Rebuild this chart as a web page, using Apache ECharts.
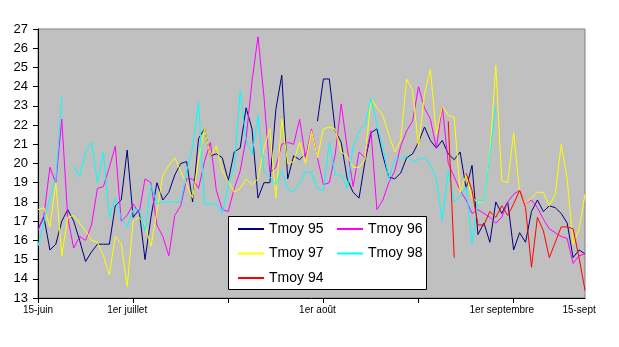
<!DOCTYPE html>
<html>
<head>
<meta charset="utf-8">
<script src="https://cdn.jsdelivr.net/npm/echarts@6/dist/echarts.min.js"></script>
<style>
  html, body { margin: 0; padding: 0; background: #ffffff; }
  #chart { width: 619px; height: 347px; }
</style>
</head>
<body>
<div id="chart"></div>
<script>
// Daily mean temperatures (°C), 15 June to 15 September (93 days)
const days = [];
for (let i = 0; i < 93; i++) {
  const d = new Date(2000, 5, 15 + i);
  days.push(String(d.getDate()).padStart(2, '0') + '/' + String(d.getMonth() + 1).padStart(2, '0'));
}

// Axis labels and the day index each one sits on
const xLabelText = ['15-juin', '1er juillet', '1er août', '1er septembre', '15-sept'];
const xLabelIndex = [0, 15, 47, 78, 91];

const seriesNames = ['Tmoy 95', 'Tmoy 96', 'Tmoy 97', 'Tmoy 98', 'Tmoy 94'];

const tmoy95 = [
  16.6, 17.2, 15.5, 15.8, 17.0, 17.6, 17.0, 16.0, 14.9, 15.4,
  15.8, 15.8, 15.8, 17.8, 18.1, 20.7, 17.2, 17.6, 15.0, 17.2,
  19.0, 18.1, 18.5, 19.4, 20.0, 20.1, 18.0, 21.3, 21.8, 20.4,
  20.5, 20.3, 19.1, 20.6, 20.8, 22.9, 21.8, 18.2, 19.0, 19.0,
  22.8, 24.6, 19.2, 20.4, 20.2, 20.5, null, 22.2, 24.4, 24.4,
  21.7, 21.1, 19.2, 18.5, 18.2, 20.1, 21.6, 21.8, 20.4, 19.3,
  19.2, 19.5, 20.3, 20.5, 21.1, 21.9, 21.2, 20.8, 21.2, 20.5,
  20.2, 20.6, 18.7, 19.9, 16.3, 16.9, 15.9, 18.0, 17.4, 18.0,
  15.5, 16.4, 15.9, 17.5, 18.1, 17.5, 17.8, 17.7, 17.4, 16.9,
  15.1, 15.5, 15.3
];

const tmoy96 = [
  16.5, 17.3, 19.8, 19.0, 22.3, 17.2, 15.6, 16.2, 16.0, 16.8,
  18.7, 18.8, 19.8, 20.9, 17.0, 17.3, 17.9, 17.4, 19.2, 19.0,
  16.8, 16.2, 15.2, 17.3, 17.8, 19.2, 19.2, 18.7, 20.1, 21.1,
  18.6, 17.6, 17.5, 18.7, 19.6, 21.3, 24.3, 26.6, 23.5, 19.5,
  19.8, 21.0, 21.1, 21.0, 22.3, 20.3, 21.8, 20.3, 18.9, 19.0,
  20.5, 23.1, 20.8, 18.8, 20.6, 20.3, 21.7, 17.6, 18.1, 19.0,
  19.6, 20.9, 21.7, 22.2, 24.0, 22.9, 22.3, 20.8, 23.0, 20.0,
  19.3, 18.6, 18.1, 17.4, 17.6, 17.4, 17.2, 16.9, 17.2, 18.0,
  18.4, 18.6, 17.9, 18.1, 17.7, 17.1, 16.6, 16.4, 16.2, 16.1,
  14.8, 15.2, 15.3
];

const tmoy97 = [
  17.6, 17.7, 16.7, 19.0, 15.2, 17.2, 17.3, 16.9, 16.5, 16.0,
  15.9, 15.2, 14.2, 16.2, 15.8, 13.6, 17.0, 17.2, 16.8, 15.7,
  17.5, 19.4, 19.9, 20.3, 19.6, 18.9, 18.2, 20.2, 21.8, 20.4,
  20.9, 19.6, 19.1, 18.5, 18.7, 19.2, 18.9, 19.2, 20.8, 21.8,
  18.2, 22.3, 20.0, 20.1, 21.1, 20.0, 21.7, 20.3, 21.8, 21.9,
  21.8, 20.6, 20.4, 19.8, 19.8, 20.2, 23.4, 22.9, 22.5, 21.5,
  20.6, 21.2, 24.4, 23.8, 20.9, 23.6, 24.9, 21.5, 23.0, 22.5,
  22.4, 18.5, 19.4, 18.2, 18.0, 18.0, 20.5, 25.1, 19.1, 19.0,
  21.6, 18.5, 17.9, 18.2, 18.5, 18.5, 17.8, 18.4, 21.0, 19.2,
  15.8, 16.6, 18.4
];

const tmoy98 = [
  15.7, 17.0, 18.2, 19.2, 23.5, null, 19.9, 19.3, 20.6, 21.1,
  19.0, 20.6, 17.2, 18.2, 17.2, 16.7, 17.6, 17.6, 16.5, 18.9,
  17.9, 18.0, 18.0, 18.0, 18.0, 19.6, 20.8, 23.2, 17.9, 17.9,
  17.9, 17.4, 18.9, 19.8, 23.8, 21.2, 20.5, 22.5, 19.6, 19.3,
  18.9, 19.6, 18.7, 18.5, 19.0, 19.6, 19.5, 18.7, 18.6, 21.1,
  19.4, 19.4, 18.7, 20.9, 21.7, 22.0, 23.4, 22.0, 20.9, 19.2,
  20.2, 20.2, 20.4, 20.1, 20.2, 20.3, 19.9, 19.2, 17.0, 19.6,
  18.0, 18.3, 18.8, 15.8, 18.1, 18.0, 20.4, 23.0, null, null,
  null, null, null, null, null, null, null, null, null, null,
  null, null, null
];

const tmoy94 = [
  null, null, null, null, null, null, null, null, null, null,
  null, null, null, null, null, null, null, null, null, null,
  null, null, null, null, null, null, null, null, null, null,
  null, null, null, null, null, null, null, null, null, null,
  null, null, null, null, null, null, null, null, null, null,
  null, null, null, null, null, null, null, null, null, null,
  null, null, null, null, null, null, null, null, null, 22.2,
  15.1, null, 19.5, 18.6, 16.8, 16.8, 17.5, 17.2, 17.8, 17.3,
  17.9, 18.6, 17.7, 14.6, 17.2, 16.5, 15.1, 15.9, 16.7, 16.7,
  16.6, 15.1, 13.4
];

const seriesData = [tmoy95, tmoy96, tmoy97, tmoy98, tmoy94];
const seriesColors = ['#000080', '#ff00ff', '#ffff00', '#00ffff', '#ff0000'];

const chart = echarts.init(document.getElementById('chart'), null, { renderer: 'canvas' });

const legendText = { fontFamily: 'Liberation Sans, Arial, sans-serif', fontSize: 14, color: '#000', lineHeight: 16 };
const legendCommon = {
  orient: 'vertical',
  icon: 'rect',
  itemWidth: 26,
  itemHeight: 2,
  itemGap: 8.5,
  padding: 0,
  selectedMode: false,
  z: 20,
  textStyle: legendText
};

chart.setOption({
  animation: false,
  backgroundColor: '#ffffff',
  grid: {
    left: 38, right: 34, top: 29, bottom: 49,
    show: true,
    backgroundColor: '#c0c0c0',
    borderColor: '#808080',
    borderWidth: 1
  },
  xAxis: {
    type: 'category',
    data: days,
    boundaryGap: false,
    axisLine: { lineStyle: { color: '#000', width: 1 } },
    axisTick: {
      show: true,
      length: 5,
      interval: (idx) => idx % 16 === 0,
      lineStyle: { color: '#000' }
    },
    axisLabel: {
      interval: (idx) => xLabelIndex.includes(idx),
      formatter: (val, idx) => {
        const k = xLabelIndex.indexOf(idx);
        return k >= 0 ? xLabelText[k] : '';
      },
      fontFamily: 'Liberation Sans, Arial, sans-serif',
      fontSize: 10,
      color: '#000',
      margin: 7
    },
    splitLine: { show: false }
  },
  yAxis: {
    type: 'value',
    min: 13,
    max: 27,
    interval: 1,
    axisLine: { show: true, lineStyle: { color: '#000', width: 1 } },
    axisTick: { show: true, length: 5, lineStyle: { color: '#000' } },
    axisLabel: {
      fontFamily: 'Liberation Sans, Arial, sans-serif',
      fontSize: 13,
      color: '#000',
      margin: 10
    },
    splitLine: { show: false }
  },
  legend: [
    Object.assign({ left: 238, top: 221, data: [seriesNames[0], seriesNames[2], seriesNames[4]] }, legendCommon),
    Object.assign({ left: 337, top: 221, data: [seriesNames[1], seriesNames[3]] }, legendCommon)
  ],
  graphic: [{
    type: 'rect',
    z: 10,
    shape: { x: 228.5, y: 216.5, width: 198, height: 73 },
    style: { fill: '#ffffff', stroke: '#000000', lineWidth: 1 }
  }],
  series: seriesNames.map((name, i) => ({
    name: name,
    type: 'line',
    data: seriesData[i],
    symbol: 'none',
    connectNulls: false,
    lineStyle: { color: seriesColors[i], width: 1 },
    itemStyle: { color: seriesColors[i] }
  }))
});
</script>
</body>
</html>
